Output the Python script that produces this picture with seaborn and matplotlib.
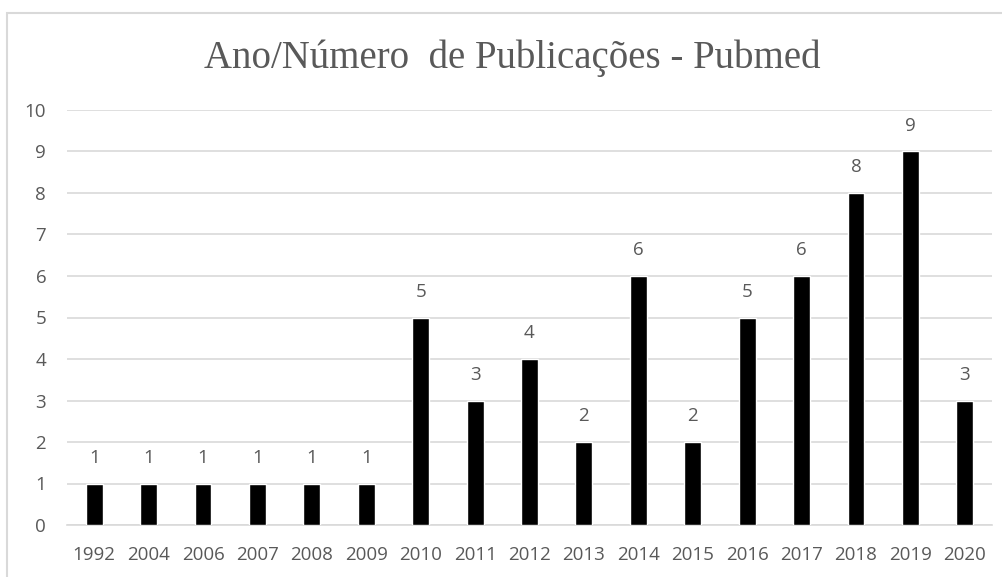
import matplotlib
matplotlib.use("Agg")
import matplotlib.pyplot as plt
import seaborn as sns
import pandas as pd
from matplotlib.patches import Rectangle

years = ["1992", "2004", "2006", "2007", "2008", "2009", "2010", "2011", "2012",
         "2013", "2014", "2015", "2016", "2017", "2018", "2019", "2020"]
counts = [1, 1, 1, 1, 1, 1, 5, 3, 4, 2, 6, 2, 5, 6, 8, 9, 3]
title = "Ano/Número  de Publicações - Pubmed"

df = pd.DataFrame({"Ano": years, "Publicações": counts})

sns.set_theme(style="white")
plt.rcParams["font.family"] = ["Open Sans", "DejaVu Sans"]

W, H = 1003, 577
fig = plt.figure(figsize=(W / 100, H / 100), dpi=100)
ax = fig.add_axes([67 / W, 1 - 525 / H, (992 - 67) / W, (525 - 110) / H])

sns.barplot(data=df, x="Ano", y="Publicações", color="black", width=0.31,
            saturation=1, ax=ax, zorder=3)

ax.set_ylim(0, 10)
ax.set_xlim(-0.5, len(years) - 0.5)
ax.set_yticks(range(0, 11))
ax.yaxis.grid(True, color="#d9d9d9", linewidth=1.2, zorder=0)
ax.xaxis.grid(False)
for s in ["top", "right", "left"]:
    ax.spines[s].set_visible(False)
ax.spines["bottom"].set_color("#d9d9d9")
ax.spines["bottom"].set_linewidth(1.2)
ax.set_xlabel("")
ax.set_ylabel("")
txtc = "#595959"
ax.tick_params(axis="both", length=0, colors=txtc, labelsize=13.5)
ax.tick_params(axis="y", pad=15)
ax.tick_params(axis="x", pad=15)

for i, v in enumerate(counts):
    ax.annotate(str(v), (i, v), xytext=(0, 12), textcoords="offset points",
                ha="center", va="bottom", color=txtc, fontsize=13.5)

fig.text(512 / W, 1 - 58 / H, title, ha="center", va="center",
         fontsize=28, color=txtc, family=["Liberation Serif", "DejaVu Serif"])

fig.patches.append(Rectangle((7 / W, -0.1), 1.2, 1 - 13 / H + 0.1,
                             transform=fig.transFigure, fill=False,
                             edgecolor="#d9d9d9", linewidth=1.5))

fig.savefig("out.png", dpi=100, facecolor="white")
